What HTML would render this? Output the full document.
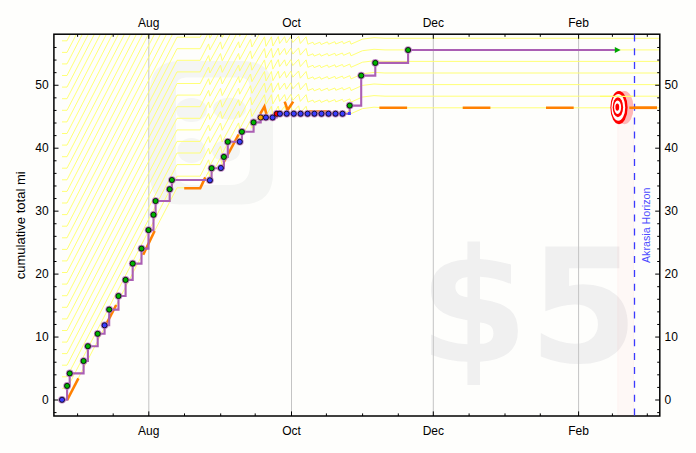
<!DOCTYPE html>
<html><head><meta charset="utf-8"><style>
html,body{margin:0;padding:0;background:#fefefc;width:696px;height:453px;overflow:hidden}
svg{display:block}
.t{font-family:"Liberation Sans",sans-serif;font-size:12px;fill:#000}
</style></head><body>
<svg width="696" height="453" viewBox="0 0 696 453">
<rect width="696" height="453" fill="#fefefc"/>
<g fill="#f0f0f0"><path transform="translate(418.5,361.8) scale(0.0773,-0.0773)" d="M795 -301H633L632 0Q507 5 390.0 28.0Q273 51 162 92V354Q277 295 394.5 263.5Q512 232 633 228V539L600 545Q361 587 260.5 677.0Q160 767 160 936Q160 1115 282.5 1215.5Q405 1316 632 1325L633 1556H795V1329Q895 1321 995.0 1304.0Q1095 1287 1196 1260V1006Q1096 1048 996.0 1071.5Q896 1095 795 1100V813L827 807Q1081 767 1183.5 673.5Q1286 580 1286 397Q1286 213 1164.0 114.5Q1042 16 795 2ZM633 836V1097Q562 1093 519.5 1058.5Q477 1024 477 971Q477 912 516.0 878.5Q555 845 633 836ZM795 510V232Q882 233 925.5 266.0Q969 299 969 365Q969 433 929.0 466.5Q889 500 795 510Z"/><path transform="translate(528.6,361.8) scale(0.0773,-0.0773)" d="M217 1493H1174V1210H524V979Q568 991 612.5 997.5Q657 1004 705 1004Q978 1004 1130.0 867.5Q1282 731 1282 487Q1282 245 1116.5 108.0Q951 -29 657 -29Q530 -29 405.5 -4.5Q281 20 158 70V373Q280 303 389.5 268.0Q499 233 596 233Q736 233 816.5 301.5Q897 370 897 487Q897 605 816.5 673.0Q736 741 596 741Q513 741 419.0 719.5Q325 698 217 653Z"/></g>
<g fill="#f4f5f3"><path fill-rule="evenodd" d="M180,61 H243 Q273,61 273,91 V173 Q273,204.5 241,204.5 H180 Q150,204.5 150,175 V91 Q150,61 180,61 Z M186,77.5 H240 Q250,77.5 250,88 V165 Q250,185 230,185 H192 Q176,185 176,169 V87.5 Q176,77.5 186,77.5 Z"/><ellipse cx="191.5" cy="110" rx="15.5" ry="12"/><ellipse cx="229.5" cy="108.8" rx="16.5" ry="11"/><ellipse cx="191.5" cy="150.5" rx="14" ry="12.5"/><ellipse cx="226" cy="151" rx="14" ry="10.5"/></g>
<rect x="617.8" y="118" width="15.8" height="298" fill="rgba(255,0,0,0.025)" stroke="rgba(255,0,0,0.045)" stroke-width="0.8"/>
<line x1="148.8" y1="34.2" x2="148.8" y2="416.0" stroke="#c4c4c4" stroke-width="1"/>
<line x1="291.5" y1="34.2" x2="291.5" y2="416.0" stroke="#c4c4c4" stroke-width="1"/>
<line x1="433.3" y1="34.2" x2="433.3" y2="416.0" stroke="#c4c4c4" stroke-width="1"/>
<line x1="578.6" y1="34.2" x2="578.6" y2="416.0" stroke="#c4c4c4" stroke-width="1"/>
<defs><clipPath id="pc"><rect x="54.6" y="35" width="604.5" height="380.3"/></clipPath></defs>
<g clip-path="url(#pc)" fill="none" stroke="#ffff70" stroke-width="0.95" stroke-linejoin="miter">
<path d="M62.0,400.0 L67.0,400.0 L177.0,187.8 L200.2,187.8 L208.6,171.4 L209.9,177.3 L220.5,157.8 L222.2,165.1 L238.6,134.5 L239.7,140.6 L250.5,120.4 L251.9,128.1 L264.5,106.3 L266.0,115.8 L271.4,106.3 L272.9,115.5 L278.3,106.0 L279.6,113.0 L284.6,106.2 L286.4,112.5 L290.8,106.0 L292.8,112.0 L298.6,105.8 L300.3,113.0 L306.1,106.3 L307.9,113.7 L313.0,111.7 L314.2,114.0 L319.9,111.7 L321.1,114.0 L327.4,111.4 L328.6,113.7 L334.9,111.2 L335.8,113.5 L342.4,110.9 L343.5,113.2 L349.8,110.5 L351.0,113.7 L362.5,108.6 L374.0,107.2 L385.0,107.8 L660.0,107.8"/>
<path d="M62.0,388.4 L67.0,388.4 L177.0,176.2 L200.2,176.2 L208.6,159.8 L209.9,165.7 L220.5,146.2 L222.2,153.5 L238.6,122.9 L239.7,129.0 L250.5,108.8 L251.9,116.5 L264.5,94.7 L266.0,104.2 L271.4,94.7 L272.9,103.9 L278.3,94.4 L279.6,101.4 L284.6,94.6 L286.4,100.9 L290.8,94.4 L292.8,100.4 L298.6,94.2 L300.3,101.4 L306.1,94.7 L307.9,102.1 L313.0,100.1 L314.2,102.4 L319.9,100.1 L321.1,102.4 L327.4,99.8 L328.6,102.1 L334.9,99.6 L335.8,101.9 L342.4,99.3 L343.5,101.6 L349.8,98.9 L351.0,102.1 L362.5,97.0 L374.0,95.6 L385.0,96.2 L660.0,96.2"/>
<path d="M62.0,376.8 L67.0,376.8 L177.0,164.6 L200.2,164.6 L208.6,148.2 L209.9,154.1 L220.5,134.6 L222.2,141.9 L238.6,111.3 L239.7,117.4 L250.5,97.2 L251.9,104.9 L264.5,83.1 L266.0,92.6 L271.4,83.1 L272.9,92.3 L278.3,82.8 L279.6,89.8 L284.6,83.0 L286.4,89.3 L290.8,82.8 L292.8,88.8 L298.6,82.6 L300.3,89.8 L306.1,83.1 L307.9,90.5 L313.0,88.5 L314.2,90.8 L319.9,88.5 L321.1,90.8 L327.4,88.2 L328.6,90.5 L334.9,88.0 L335.8,90.3 L342.4,87.7 L343.5,90.0 L349.8,87.3 L351.0,90.5 L362.5,85.4 L374.0,84.0 L385.0,84.6 L660.0,84.6"/>
<path d="M62.0,365.2 L67.0,365.2 L177.0,153.0 L200.2,153.0 L208.6,136.6 L209.9,142.5 L220.5,123.0 L222.2,130.3 L238.6,99.7 L239.7,105.8 L250.5,85.6 L251.9,93.3 L264.5,71.5 L266.0,81.0 L271.4,71.5 L272.9,80.7 L278.3,71.2 L279.6,78.2 L284.6,71.4 L286.4,77.7 L290.8,71.2 L292.8,77.2 L298.6,71.0 L300.3,78.2 L306.1,71.5 L307.9,78.9 L313.0,76.9 L314.2,79.2 L319.9,76.9 L321.1,79.2 L327.4,76.6 L328.6,78.9 L334.9,76.4 L335.8,78.7 L342.4,76.1 L343.5,78.4 L349.8,75.7 L351.0,78.9 L362.5,73.8 L374.0,72.4 L385.0,73.0 L660.0,73.0"/>
<path d="M62.0,353.6 L67.0,353.6 L177.0,141.4 L200.2,141.4 L208.6,125.0 L209.9,130.9 L220.5,111.4 L222.2,118.7 L238.6,88.1 L239.7,94.2 L250.5,74.0 L251.9,81.7 L264.5,59.9 L266.0,69.4 L271.4,59.9 L272.9,69.1 L278.3,59.6 L279.6,66.6 L284.6,59.8 L286.4,66.1 L290.8,59.6 L292.8,65.6 L298.6,59.4 L300.3,66.6 L306.1,59.9 L307.9,67.3 L313.0,65.3 L314.2,67.6 L319.9,65.3 L321.1,67.6 L327.4,65.0 L328.6,67.3 L334.9,64.8 L335.8,67.1 L342.4,64.5 L343.5,66.8 L349.8,64.1 L351.0,67.3 L362.5,62.2 L374.0,60.8 L385.0,61.4 L660.0,61.4"/>
<path d="M62.0,342.1 L67.0,342.1 L177.0,129.9 L200.2,129.9 L208.6,113.5 L209.9,119.4 L220.5,99.9 L222.2,107.2 L238.6,76.6 L239.7,82.7 L250.5,62.5 L251.9,70.2 L264.5,48.4 L266.0,57.9 L271.4,48.4 L272.9,57.6 L278.3,48.1 L279.6,55.1 L284.6,48.3 L286.4,54.6 L290.8,48.1 L292.8,54.1 L298.6,47.9 L300.3,55.1 L306.1,48.4 L307.9,55.8 L313.0,53.8 L314.2,56.1 L319.9,53.8 L321.1,56.1 L327.4,53.5 L328.6,55.8 L334.9,53.3 L335.8,55.6 L342.4,53.0 L343.5,55.3 L349.8,52.6 L351.0,55.8 L362.5,50.7 L374.0,49.3 L385.0,49.9 L660.0,49.9"/>
<path d="M62.0,330.5 L67.0,330.5 L177.0,118.3 L200.2,118.3 L208.6,101.9 L209.9,107.8 L220.5,88.3 L222.2,95.6 L238.6,65.0 L239.7,71.1 L250.5,50.9 L251.9,58.6 L264.5,36.8 L266.0,46.3 L271.4,36.8 L272.9,46.0 L278.3,36.5 L279.6,43.5 L284.6,36.7 L286.4,43.0 L290.8,36.5 L292.8,42.5 L298.6,36.3 L300.3,43.5 L306.1,36.8 L307.9,44.2 L313.0,42.2 L314.2,44.5 L319.9,42.2 L321.1,44.5 L327.4,41.9 L328.6,44.2 L334.9,41.7 L335.8,44.0 L342.4,41.4 L343.5,43.7 L349.8,41.0 L351.0,44.2 L362.5,39.1 L374.0,37.7 L385.0,38.3 L660.0,38.3"/>
<path d="M62.0,318.9 L67.0,318.9 L177.0,106.7 L200.2,106.7 L208.6,90.3 L209.9,96.2 L220.5,76.7 L222.2,84.0 L238.6,53.4 L239.7,59.5 L250.5,39.3 L251.9,47.0 L264.5,25.2 L266.0,34.7 L271.4,25.2 L272.9,34.4 L278.3,24.9 L279.6,31.9 L284.6,25.1 L286.4,31.4 L290.8,24.9 L292.8,30.9 L298.6,24.7 L300.3,31.9 L306.1,25.2 L307.9,32.6 L313.0,30.6 L314.2,32.9 L319.9,30.6 L321.1,32.9 L327.4,30.3 L328.6,32.6 L334.9,30.1 L335.8,32.4 L342.4,29.8 L343.5,32.1 L349.8,29.4 L351.0,32.6 L362.5,27.5 L374.0,26.1 L385.0,26.7 L660.0,26.7"/>
<path d="M62.0,307.3 L67.0,307.3 L177.0,95.1 L200.2,95.1 L208.6,78.7 L209.9,84.6 L220.5,65.1 L222.2,72.4 L238.6,41.8 L239.7,47.9 L250.5,27.7 L251.9,35.4 L264.5,13.6 L266.0,23.1 L271.4,13.6 L272.9,22.8 L278.3,13.3 L279.6,20.3 L284.6,13.5 L286.4,19.8 L290.8,13.3 L292.8,19.3 L298.6,13.1 L300.3,20.3 L306.1,13.6 L307.9,21.0 L313.0,19.0 L314.2,21.3 L319.9,19.0 L321.1,21.3 L327.4,18.7 L328.6,21.0 L334.9,18.5 L335.8,20.8 L342.4,18.2 L343.5,20.5 L349.8,17.8 L351.0,21.0 L362.5,15.9 L374.0,14.5 L385.0,15.1 L660.0,15.1"/>
<path d="M62.0,295.7 L67.0,295.7 L177.0,83.5 L200.2,83.5 L208.6,67.1 L209.9,73.0 L220.5,53.5 L222.2,60.8 L238.6,30.2 L239.7,36.3 L250.5,16.1 L251.9,23.8 L264.5,2.0 L266.0,11.5 L271.4,2.0 L272.9,11.2 L278.3,1.7 L279.6,8.7 L284.6,1.9 L286.4,8.2 L290.8,1.7 L292.8,7.7 L298.6,1.5 L300.3,8.7 L306.1,2.0 L307.9,9.4 L313.0,7.4 L314.2,9.7 L319.9,7.4 L321.1,9.7 L327.4,7.1 L328.6,9.4 L334.9,6.9 L335.8,9.2 L342.4,6.6 L343.5,8.9 L349.8,6.2 L351.0,9.4 L362.5,4.3 L374.0,2.9 L385.0,3.5 L660.0,3.5"/>
<path d="M62.0,284.1 L67.0,284.1 L177.0,71.9 L200.2,71.9 L208.6,55.5 L209.9,61.4 L220.5,41.9 L222.2,49.2 L238.6,18.6 L239.7,24.7 L250.5,4.5 L251.9,12.2 L264.5,-9.6 L266.0,-0.1 L271.4,-9.6 L272.9,-0.4 L278.3,-9.9 L279.6,-2.9 L284.6,-9.7 L286.4,-3.4 L290.8,-9.9 L292.8,-3.9 L298.6,-10.1 L300.3,-2.9 L306.1,-9.6 L307.9,-2.2 L313.0,-4.2 L314.2,-1.9 L319.9,-4.2 L321.1,-1.9 L327.4,-4.5 L328.6,-2.2 L334.9,-4.7 L335.8,-2.4 L342.4,-5.0 L343.5,-2.7 L349.8,-5.4 L351.0,-2.2 L362.5,-7.3 L374.0,-8.7 L385.0,-8.1 L660.0,-8.1"/>
<path d="M62.0,272.5 L67.0,272.5 L177.0,60.3 L200.2,60.3 L208.6,43.9 L209.9,49.8 L220.5,30.3 L222.2,37.6 L238.6,7.0 L239.7,13.1 L250.5,-7.1 L251.9,0.6 L264.5,-21.2 L266.0,-11.7 L271.4,-21.2 L272.9,-12.0 L278.3,-21.5 L279.6,-14.5 L284.6,-21.3 L286.4,-15.0 L290.8,-21.5 L292.8,-15.5 L298.6,-21.7 L300.3,-14.5 L306.1,-21.2 L307.9,-13.8 L313.0,-15.8 L314.2,-13.5 L319.9,-15.8 L321.1,-13.5 L327.4,-16.1 L328.6,-13.8 L334.9,-16.3 L335.8,-14.0 L342.4,-16.6 L343.5,-14.3 L349.8,-17.0 L351.0,-13.8 L362.5,-18.9 L374.0,-20.3 L385.0,-19.7 L660.0,-19.7"/>
<path d="M62.0,260.9 L67.0,260.9 L177.0,48.7 L200.2,48.7 L208.6,32.3 L209.9,38.2 L220.5,18.7 L222.2,26.0 L238.6,-4.6 L239.7,1.5 L250.5,-18.7 L251.9,-11.0 L264.5,-32.8 L266.0,-23.3 L271.4,-32.8 L272.9,-23.6 L278.3,-33.1 L279.6,-26.1 L284.6,-32.9 L286.4,-26.6 L290.8,-33.1 L292.8,-27.1 L298.6,-33.3 L300.3,-26.1 L306.1,-32.8 L307.9,-25.4 L313.0,-27.4 L314.2,-25.1 L319.9,-27.4 L321.1,-25.1 L327.4,-27.7 L328.6,-25.4 L334.9,-27.9 L335.8,-25.6 L342.4,-28.2 L343.5,-25.9 L349.8,-28.6 L351.0,-25.4 L362.5,-30.5 L374.0,-31.9 L385.0,-31.3 L660.0,-31.3"/>
<path d="M62.0,249.4 L67.0,249.4 L177.0,37.2 L200.2,37.2 L208.6,20.8 L209.9,26.7 L220.5,7.2 L222.2,14.5 L238.6,-16.1 L239.7,-10.0 L250.5,-30.2 L251.9,-22.5 L264.5,-44.3 L266.0,-34.8 L271.4,-44.3 L272.9,-35.1 L278.3,-44.6 L279.6,-37.6 L284.6,-44.4 L286.4,-38.1 L290.8,-44.6 L292.8,-38.6 L298.6,-44.8 L300.3,-37.6 L306.1,-44.3 L307.9,-36.9 L313.0,-38.9 L314.2,-36.6 L319.9,-38.9 L321.1,-36.6 L327.4,-39.2 L328.6,-36.9 L334.9,-39.4 L335.8,-37.1 L342.4,-39.7 L343.5,-37.4 L349.8,-40.1 L351.0,-36.9 L362.5,-42.0 L374.0,-43.4 L385.0,-42.8 L660.0,-42.8"/>
<path d="M62.0,237.8 L67.0,237.8 L177.0,25.6 L200.2,25.6 L208.6,9.2 L209.9,15.1 L220.5,-4.4 L222.2,2.9 L238.6,-27.7 L239.7,-21.6 L250.5,-41.8 L251.9,-34.1 L264.5,-55.9 L266.0,-46.4 L271.4,-55.9 L272.9,-46.7 L278.3,-56.2 L279.6,-49.2 L284.6,-56.0 L286.4,-49.7 L290.8,-56.2 L292.8,-50.2 L298.6,-56.4 L300.3,-49.2 L306.1,-55.9 L307.9,-48.5 L313.0,-50.5 L314.2,-48.2 L319.9,-50.5 L321.1,-48.2 L327.4,-50.8 L328.6,-48.5 L334.9,-51.0 L335.8,-48.7 L342.4,-51.3 L343.5,-49.0 L349.8,-51.7 L351.0,-48.5 L362.5,-53.6 L374.0,-55.0 L385.0,-54.4 L660.0,-54.4"/>
<path d="M62.0,226.2 L67.0,226.2 L177.0,14.0 L200.2,14.0 L208.6,-2.4 L209.9,3.5 L220.5,-16.0 L222.2,-8.7 L238.6,-39.3 L239.7,-33.2 L250.5,-53.4 L251.9,-45.7 L264.5,-67.5 L266.0,-58.0 L271.4,-67.5 L272.9,-58.3 L278.3,-67.8 L279.6,-60.8 L284.6,-67.6 L286.4,-61.3 L290.8,-67.8 L292.8,-61.8 L298.6,-68.0 L300.3,-60.8 L306.1,-67.5 L307.9,-60.1 L313.0,-62.1 L314.2,-59.8 L319.9,-62.1 L321.1,-59.8 L327.4,-62.4 L328.6,-60.1 L334.9,-62.6 L335.8,-60.3 L342.4,-62.9 L343.5,-60.6 L349.8,-63.3 L351.0,-60.1 L362.5,-65.2 L374.0,-66.6 L385.0,-66.0 L660.0,-66.0"/>
<path d="M62.0,214.6 L67.0,214.6 L177.0,2.4 L200.2,2.4 L208.6,-14.0 L209.9,-8.1 L220.5,-27.6 L222.2,-20.3 L238.6,-50.9 L239.7,-44.8 L250.5,-65.0 L251.9,-57.3 L264.5,-79.1 L266.0,-69.6 L271.4,-79.1 L272.9,-69.9 L278.3,-79.4 L279.6,-72.4 L284.6,-79.2 L286.4,-72.9 L290.8,-79.4 L292.8,-73.4 L298.6,-79.6 L300.3,-72.4 L306.1,-79.1 L307.9,-71.7 L313.0,-73.7 L314.2,-71.4 L319.9,-73.7 L321.1,-71.4 L327.4,-74.0 L328.6,-71.7 L334.9,-74.2 L335.8,-71.9 L342.4,-74.5 L343.5,-72.2 L349.8,-74.9 L351.0,-71.7 L362.5,-76.8 L374.0,-78.2 L385.0,-77.6 L660.0,-77.6"/>
<path d="M62.0,203.0 L67.0,203.0 L177.0,-9.2 L200.2,-9.2 L208.6,-25.6 L209.9,-19.7 L220.5,-39.2 L222.2,-31.9 L238.6,-62.5 L239.7,-56.4 L250.5,-76.6 L251.9,-68.9 L264.5,-90.7 L266.0,-81.2 L271.4,-90.7 L272.9,-81.5 L278.3,-91.0 L279.6,-84.0 L284.6,-90.8 L286.4,-84.5 L290.8,-91.0 L292.8,-85.0 L298.6,-91.2 L300.3,-84.0 L306.1,-90.7 L307.9,-83.3 L313.0,-85.3 L314.2,-83.0 L319.9,-85.3 L321.1,-83.0 L327.4,-85.6 L328.6,-83.3 L334.9,-85.8 L335.8,-83.5 L342.4,-86.1 L343.5,-83.8 L349.8,-86.5 L351.0,-83.3 L362.5,-88.4 L374.0,-89.8 L385.0,-89.2 L660.0,-89.2"/>
<path d="M62.0,191.4 L67.0,191.4 L177.0,-20.8 L200.2,-20.8 L208.6,-37.2 L209.9,-31.3 L220.5,-50.8 L222.2,-43.5 L238.6,-74.1 L239.7,-68.0 L250.5,-88.2 L251.9,-80.5 L264.5,-102.3 L266.0,-92.8 L271.4,-102.3 L272.9,-93.1 L278.3,-102.6 L279.6,-95.6 L284.6,-102.4 L286.4,-96.1 L290.8,-102.6 L292.8,-96.6 L298.6,-102.8 L300.3,-95.6 L306.1,-102.3 L307.9,-94.9 L313.0,-96.9 L314.2,-94.6 L319.9,-96.9 L321.1,-94.6 L327.4,-97.2 L328.6,-94.9 L334.9,-97.4 L335.8,-95.1 L342.4,-97.7 L343.5,-95.4 L349.8,-98.1 L351.0,-94.9 L362.5,-100.0 L374.0,-101.4 L385.0,-100.8 L660.0,-100.8"/>
<path d="M62.0,179.8 L67.0,179.8 L177.0,-32.4 L200.2,-32.4 L208.6,-48.8 L209.9,-42.9 L220.5,-62.4 L222.2,-55.1 L238.6,-85.7 L239.7,-79.6 L250.5,-99.8 L251.9,-92.1 L264.5,-113.9 L266.0,-104.4 L271.4,-113.9 L272.9,-104.7 L278.3,-114.2 L279.6,-107.2 L284.6,-114.0 L286.4,-107.7 L290.8,-114.2 L292.8,-108.2 L298.6,-114.4 L300.3,-107.2 L306.1,-113.9 L307.9,-106.5 L313.0,-108.5 L314.2,-106.2 L319.9,-108.5 L321.1,-106.2 L327.4,-108.8 L328.6,-106.5 L334.9,-109.0 L335.8,-106.7 L342.4,-109.3 L343.5,-107.0 L349.8,-109.7 L351.0,-106.5 L362.5,-111.6 L374.0,-113.0 L385.0,-112.4 L660.0,-112.4"/>
<path d="M62.0,168.2 L67.0,168.2 L177.0,-44.0 L200.2,-44.0 L208.6,-60.4 L209.9,-54.5 L220.5,-74.0 L222.2,-66.7 L238.6,-97.3 L239.7,-91.2 L250.5,-111.4 L251.9,-103.7 L264.5,-125.5 L266.0,-116.0 L271.4,-125.5 L272.9,-116.3 L278.3,-125.8 L279.6,-118.8 L284.6,-125.6 L286.4,-119.3 L290.8,-125.8 L292.8,-119.8 L298.6,-126.0 L300.3,-118.8 L306.1,-125.5 L307.9,-118.1 L313.0,-120.1 L314.2,-117.8 L319.9,-120.1 L321.1,-117.8 L327.4,-120.4 L328.6,-118.1 L334.9,-120.6 L335.8,-118.3 L342.4,-120.9 L343.5,-118.6 L349.8,-121.3 L351.0,-118.1 L362.5,-123.2 L374.0,-124.6 L385.0,-124.0 L660.0,-124.0"/>
<path d="M62.0,156.7 L67.0,156.7 L177.0,-55.5 L200.2,-55.5 L208.6,-71.9 L209.9,-66.0 L220.5,-85.5 L222.2,-78.2 L238.6,-108.8 L239.7,-102.7 L250.5,-122.9 L251.9,-115.2 L264.5,-137.0 L266.0,-127.5 L271.4,-137.0 L272.9,-127.8 L278.3,-137.3 L279.6,-130.3 L284.6,-137.1 L286.4,-130.8 L290.8,-137.3 L292.8,-131.3 L298.6,-137.5 L300.3,-130.3 L306.1,-137.0 L307.9,-129.6 L313.0,-131.6 L314.2,-129.3 L319.9,-131.6 L321.1,-129.3 L327.4,-131.9 L328.6,-129.6 L334.9,-132.1 L335.8,-129.8 L342.4,-132.4 L343.5,-130.1 L349.8,-132.8 L351.0,-129.6 L362.5,-134.7 L374.0,-136.1 L385.0,-135.5 L660.0,-135.5"/>
<path d="M62.0,145.1 L67.0,145.1 L177.0,-67.1 L200.2,-67.1 L208.6,-83.5 L209.9,-77.6 L220.5,-97.1 L222.2,-89.8 L238.6,-120.4 L239.7,-114.3 L250.5,-134.5 L251.9,-126.8 L264.5,-148.6 L266.0,-139.1 L271.4,-148.6 L272.9,-139.4 L278.3,-148.9 L279.6,-141.9 L284.6,-148.7 L286.4,-142.4 L290.8,-148.9 L292.8,-142.9 L298.6,-149.1 L300.3,-141.9 L306.1,-148.6 L307.9,-141.2 L313.0,-143.2 L314.2,-140.9 L319.9,-143.2 L321.1,-140.9 L327.4,-143.5 L328.6,-141.2 L334.9,-143.7 L335.8,-141.4 L342.4,-144.0 L343.5,-141.7 L349.8,-144.4 L351.0,-141.2 L362.5,-146.3 L374.0,-147.7 L385.0,-147.1 L660.0,-147.1"/>
<path d="M62.0,133.5 L67.0,133.5 L177.0,-78.7 L200.2,-78.7 L208.6,-95.1 L209.9,-89.2 L220.5,-108.7 L222.2,-101.4 L238.6,-132.0 L239.7,-125.9 L250.5,-146.1 L251.9,-138.4 L264.5,-160.2 L266.0,-150.7 L271.4,-160.2 L272.9,-151.0 L278.3,-160.5 L279.6,-153.5 L284.6,-160.3 L286.4,-154.0 L290.8,-160.5 L292.8,-154.5 L298.6,-160.7 L300.3,-153.5 L306.1,-160.2 L307.9,-152.8 L313.0,-154.8 L314.2,-152.5 L319.9,-154.8 L321.1,-152.5 L327.4,-155.1 L328.6,-152.8 L334.9,-155.3 L335.8,-153.0 L342.4,-155.6 L343.5,-153.3 L349.8,-156.0 L351.0,-152.8 L362.5,-157.9 L374.0,-159.3 L385.0,-158.7 L660.0,-158.7"/>
<path d="M62.0,121.9 L67.0,121.9 L177.0,-90.3 L200.2,-90.3 L208.6,-106.7 L209.9,-100.8 L220.5,-120.3 L222.2,-113.0 L238.6,-143.6 L239.7,-137.5 L250.5,-157.7 L251.9,-150.0 L264.5,-171.8 L266.0,-162.3 L271.4,-171.8 L272.9,-162.6 L278.3,-172.1 L279.6,-165.1 L284.6,-171.9 L286.4,-165.6 L290.8,-172.1 L292.8,-166.1 L298.6,-172.3 L300.3,-165.1 L306.1,-171.8 L307.9,-164.4 L313.0,-166.4 L314.2,-164.1 L319.9,-166.4 L321.1,-164.1 L327.4,-166.7 L328.6,-164.4 L334.9,-166.9 L335.8,-164.6 L342.4,-167.2 L343.5,-164.9 L349.8,-167.6 L351.0,-164.4 L362.5,-169.5 L374.0,-170.9 L385.0,-170.3 L660.0,-170.3"/>
<path d="M62.0,110.3 L67.0,110.3 L177.0,-101.9 L200.2,-101.9 L208.6,-118.3 L209.9,-112.4 L220.5,-131.9 L222.2,-124.6 L238.6,-155.2 L239.7,-149.1 L250.5,-169.3 L251.9,-161.6 L264.5,-183.4 L266.0,-173.9 L271.4,-183.4 L272.9,-174.2 L278.3,-183.7 L279.6,-176.7 L284.6,-183.5 L286.4,-177.2 L290.8,-183.7 L292.8,-177.7 L298.6,-183.9 L300.3,-176.7 L306.1,-183.4 L307.9,-176.0 L313.0,-178.0 L314.2,-175.7 L319.9,-178.0 L321.1,-175.7 L327.4,-178.3 L328.6,-176.0 L334.9,-178.5 L335.8,-176.2 L342.4,-178.8 L343.5,-176.5 L349.8,-179.2 L351.0,-176.0 L362.5,-181.1 L374.0,-182.5 L385.0,-181.9 L660.0,-181.9"/>
<path d="M62.0,98.7 L67.0,98.7 L177.0,-113.5 L200.2,-113.5 L208.6,-129.9 L209.9,-124.0 L220.5,-143.5 L222.2,-136.2 L238.6,-166.8 L239.7,-160.7 L250.5,-180.9 L251.9,-173.2 L264.5,-195.0 L266.0,-185.5 L271.4,-195.0 L272.9,-185.8 L278.3,-195.3 L279.6,-188.3 L284.6,-195.1 L286.4,-188.8 L290.8,-195.3 L292.8,-189.3 L298.6,-195.5 L300.3,-188.3 L306.1,-195.0 L307.9,-187.6 L313.0,-189.6 L314.2,-187.3 L319.9,-189.6 L321.1,-187.3 L327.4,-189.9 L328.6,-187.6 L334.9,-190.1 L335.8,-187.8 L342.4,-190.4 L343.5,-188.1 L349.8,-190.8 L351.0,-187.6 L362.5,-192.7 L374.0,-194.1 L385.0,-193.5 L660.0,-193.5"/>
<path d="M62.0,87.1 L67.0,87.1 L177.0,-125.1 L200.2,-125.1 L208.6,-141.5 L209.9,-135.6 L220.5,-155.1 L222.2,-147.8 L238.6,-178.4 L239.7,-172.3 L250.5,-192.5 L251.9,-184.8 L264.5,-206.6 L266.0,-197.1 L271.4,-206.6 L272.9,-197.4 L278.3,-206.9 L279.6,-199.9 L284.6,-206.7 L286.4,-200.4 L290.8,-206.9 L292.8,-200.9 L298.6,-207.1 L300.3,-199.9 L306.1,-206.6 L307.9,-199.2 L313.0,-201.2 L314.2,-198.9 L319.9,-201.2 L321.1,-198.9 L327.4,-201.5 L328.6,-199.2 L334.9,-201.7 L335.8,-199.4 L342.4,-202.0 L343.5,-199.7 L349.8,-202.4 L351.0,-199.2 L362.5,-204.3 L374.0,-205.7 L385.0,-205.1 L660.0,-205.1"/>
<path d="M62.0,75.5 L67.0,75.5 L177.0,-136.7 L200.2,-136.7 L208.6,-153.1 L209.9,-147.2 L220.5,-166.7 L222.2,-159.4 L238.6,-190.0 L239.7,-183.9 L250.5,-204.1 L251.9,-196.4 L264.5,-218.2 L266.0,-208.7 L271.4,-218.2 L272.9,-209.0 L278.3,-218.5 L279.6,-211.5 L284.6,-218.3 L286.4,-212.0 L290.8,-218.5 L292.8,-212.5 L298.6,-218.7 L300.3,-211.5 L306.1,-218.2 L307.9,-210.8 L313.0,-212.8 L314.2,-210.5 L319.9,-212.8 L321.1,-210.5 L327.4,-213.1 L328.6,-210.8 L334.9,-213.3 L335.8,-211.0 L342.4,-213.6 L343.5,-211.3 L349.8,-214.0 L351.0,-210.8 L362.5,-215.9 L374.0,-217.3 L385.0,-216.7 L660.0,-216.7"/>
<path d="M62.0,63.9 L67.0,63.9 L177.0,-148.3 L200.2,-148.3 L208.6,-164.7 L209.9,-158.8 L220.5,-178.3 L222.2,-171.0 L238.6,-201.6 L239.7,-195.5 L250.5,-215.7 L251.9,-208.0 L264.5,-229.8 L266.0,-220.3 L271.4,-229.8 L272.9,-220.6 L278.3,-230.1 L279.6,-223.1 L284.6,-229.9 L286.4,-223.6 L290.8,-230.1 L292.8,-224.1 L298.6,-230.3 L300.3,-223.1 L306.1,-229.8 L307.9,-222.4 L313.0,-224.4 L314.2,-222.1 L319.9,-224.4 L321.1,-222.1 L327.4,-224.7 L328.6,-222.4 L334.9,-224.9 L335.8,-222.6 L342.4,-225.2 L343.5,-222.9 L349.8,-225.6 L351.0,-222.4 L362.5,-227.5 L374.0,-228.9 L385.0,-228.3 L660.0,-228.3"/>
<path d="M62.0,52.4 L67.0,52.4 L177.0,-159.8 L200.2,-159.8 L208.6,-176.2 L209.9,-170.3 L220.5,-189.8 L222.2,-182.5 L238.6,-213.1 L239.7,-207.0 L250.5,-227.2 L251.9,-219.5 L264.5,-241.3 L266.0,-231.8 L271.4,-241.3 L272.9,-232.1 L278.3,-241.6 L279.6,-234.6 L284.6,-241.4 L286.4,-235.1 L290.8,-241.6 L292.8,-235.6 L298.6,-241.8 L300.3,-234.6 L306.1,-241.3 L307.9,-233.9 L313.0,-235.9 L314.2,-233.6 L319.9,-235.9 L321.1,-233.6 L327.4,-236.2 L328.6,-233.9 L334.9,-236.4 L335.8,-234.1 L342.4,-236.7 L343.5,-234.4 L349.8,-237.1 L351.0,-233.9 L362.5,-239.0 L374.0,-240.4 L385.0,-239.8 L660.0,-239.8"/>
<path d="M62.0,40.8 L67.0,40.8 L177.0,-171.4 L200.2,-171.4 L208.6,-187.8 L209.9,-181.9 L220.5,-201.4 L222.2,-194.1 L238.6,-224.7 L239.7,-218.6 L250.5,-238.8 L251.9,-231.1 L264.5,-252.9 L266.0,-243.4 L271.4,-252.9 L272.9,-243.7 L278.3,-253.2 L279.6,-246.2 L284.6,-253.0 L286.4,-246.7 L290.8,-253.2 L292.8,-247.2 L298.6,-253.4 L300.3,-246.2 L306.1,-252.9 L307.9,-245.5 L313.0,-247.5 L314.2,-245.2 L319.9,-247.5 L321.1,-245.2 L327.4,-247.8 L328.6,-245.5 L334.9,-248.0 L335.8,-245.7 L342.4,-248.3 L343.5,-246.0 L349.8,-248.7 L351.0,-245.5 L362.5,-250.6 L374.0,-252.0 L385.0,-251.4 L660.0,-251.4"/>
<path d="M62.0,29.2 L67.0,29.2 L177.0,-183.0 L200.2,-183.0 L208.6,-199.4 L209.9,-193.5 L220.5,-213.0 L222.2,-205.7 L238.6,-236.3 L239.7,-230.2 L250.5,-250.4 L251.9,-242.7 L264.5,-264.5 L266.0,-255.0 L271.4,-264.5 L272.9,-255.3 L278.3,-264.8 L279.6,-257.8 L284.6,-264.6 L286.4,-258.3 L290.8,-264.8 L292.8,-258.8 L298.6,-265.0 L300.3,-257.8 L306.1,-264.5 L307.9,-257.1 L313.0,-259.1 L314.2,-256.8 L319.9,-259.1 L321.1,-256.8 L327.4,-259.4 L328.6,-257.1 L334.9,-259.6 L335.8,-257.3 L342.4,-259.9 L343.5,-257.6 L349.8,-260.3 L351.0,-257.1 L362.5,-262.2 L374.0,-263.6 L385.0,-263.0 L660.0,-263.0"/>
<path d="M62.0,17.6 L67.0,17.6 L177.0,-194.6 L200.2,-194.6 L208.6,-211.0 L209.9,-205.1 L220.5,-224.6 L222.2,-217.3 L238.6,-247.9 L239.7,-241.8 L250.5,-262.0 L251.9,-254.3 L264.5,-276.1 L266.0,-266.6 L271.4,-276.1 L272.9,-266.9 L278.3,-276.4 L279.6,-269.4 L284.6,-276.2 L286.4,-269.9 L290.8,-276.4 L292.8,-270.4 L298.6,-276.6 L300.3,-269.4 L306.1,-276.1 L307.9,-268.7 L313.0,-270.7 L314.2,-268.4 L319.9,-270.7 L321.1,-268.4 L327.4,-271.0 L328.6,-268.7 L334.9,-271.2 L335.8,-268.9 L342.4,-271.5 L343.5,-269.2 L349.8,-271.9 L351.0,-268.7 L362.5,-273.8 L374.0,-275.2 L385.0,-274.6 L660.0,-274.6"/>
</g>
<g fill="none" stroke="#ff8000" stroke-width="2.6" stroke-linecap="butt" stroke-linejoin="miter">
<path d="M67.2,400 L78.4,378.4"/>
<path d="M105.5,325.6 L116.2,305"/>
<path d="M143.2,254.8 L154.6,231"/>
<path d="M184.2,188.2 L200.2,188.2 L205.3,177.4"/>
<path d="M223.6,162.5 L238.6,134.5"/>
<path d="M260.2,113.8 L264.4,106.6 L266.4,113.8"/>
<path d="M284.7,101.6 L287.6,110 L293.2,101.6"/>
<path d="M309,111.5 L330,111.5"/>
<path d="M379.4,107.8 H660" stroke-dasharray="27.7 55.6"/>
</g>
<rect x="53.9" y="34.2" width="605.9" height="381.8" fill="none" stroke="#000" stroke-width="1.5"/>
<path d="M77.6,416.0 v-2.6 M77.6,34.2 v2.6 M113.2,416.0 v-2.6 M113.2,34.2 v2.6 M184.5,416.0 v-2.6 M184.5,34.2 v2.6 M220.7,416.0 v-2.6 M220.7,34.2 v2.6 M255.2,416.0 v-2.6 M255.2,34.2 v2.6 M326.4,416.0 v-2.6 M326.4,34.2 v2.6 M362.6,416.0 v-2.6 M362.6,34.2 v2.6 M398.3,416.0 v-2.6 M398.3,34.2 v2.6 M469.1,416.0 v-2.6 M469.1,34.2 v2.6 M505,416.0 v-2.6 M505,34.2 v2.6 M540.3,416.0 v-2.6 M540.3,34.2 v2.6 M612.4,416.0 v-2.6 M612.4,34.2 v2.6 M647.3,416.0 v-2.6 M647.3,34.2 v2.6 M148.8,416.0 v-4.6 M148.8,34.2 v4.6 M291.5,416.0 v-4.6 M291.5,34.2 v4.6 M433.3,416.0 v-4.6 M433.3,34.2 v4.6 M578.6,416.0 v-4.6 M578.6,34.2 v4.6 M53.9,412.59 h2.6 M659.8,412.59 h-2.6 M53.9,400.00 h4.6 M659.8,400.00 h-4.6 M53.9,387.41 h2.6 M659.8,387.41 h-2.6 M53.9,374.82 h2.6 M659.8,374.82 h-2.6 M53.9,362.23 h2.6 M659.8,362.23 h-2.6 M53.9,349.64 h2.6 M659.8,349.64 h-2.6 M53.9,337.05 h4.6 M659.8,337.05 h-4.6 M53.9,324.46 h2.6 M659.8,324.46 h-2.6 M53.9,311.87 h2.6 M659.8,311.87 h-2.6 M53.9,299.28 h2.6 M659.8,299.28 h-2.6 M53.9,286.69 h2.6 M659.8,286.69 h-2.6 M53.9,274.10 h4.6 M659.8,274.10 h-4.6 M53.9,261.51 h2.6 M659.8,261.51 h-2.6 M53.9,248.92 h2.6 M659.8,248.92 h-2.6 M53.9,236.33 h2.6 M659.8,236.33 h-2.6 M53.9,223.74 h2.6 M659.8,223.74 h-2.6 M53.9,211.15 h4.6 M659.8,211.15 h-4.6 M53.9,198.56 h2.6 M659.8,198.56 h-2.6 M53.9,185.97 h2.6 M659.8,185.97 h-2.6 M53.9,173.38 h2.6 M659.8,173.38 h-2.6 M53.9,160.79 h2.6 M659.8,160.79 h-2.6 M53.9,148.20 h4.6 M659.8,148.20 h-4.6 M53.9,135.61 h2.6 M659.8,135.61 h-2.6 M53.9,123.02 h2.6 M659.8,123.02 h-2.6 M53.9,110.43 h2.6 M659.8,110.43 h-2.6 M53.9,97.84 h2.6 M659.8,97.84 h-2.6 M53.9,85.25 h4.6 M659.8,85.25 h-4.6 M53.9,72.66 h2.6 M659.8,72.66 h-2.6 M53.9,60.07 h2.6 M659.8,60.07 h-2.6 M53.9,47.48 h2.6 M659.8,47.48 h-2.6" stroke="#000" stroke-width="1" fill="none"/>
<text x="48.6" y="403.9" text-anchor="end" class="t">0</text>
<text x="664.6" y="403.9" class="t">0</text>
<text x="48.6" y="340.9" text-anchor="end" class="t">10</text>
<text x="664.6" y="340.9" class="t">10</text>
<text x="48.6" y="278.0" text-anchor="end" class="t">20</text>
<text x="664.6" y="278.0" class="t">20</text>
<text x="48.6" y="215.1" text-anchor="end" class="t">30</text>
<text x="664.6" y="215.1" class="t">30</text>
<text x="48.6" y="152.1" text-anchor="end" class="t">40</text>
<text x="664.6" y="152.1" class="t">40</text>
<text x="48.6" y="89.2" text-anchor="end" class="t">50</text>
<text x="664.6" y="89.2" class="t">50</text>
<text x="148.8" y="27" text-anchor="middle" class="t">Aug</text>
<text x="148.8" y="434.8" text-anchor="middle" class="t">Aug</text>
<text x="291.5" y="27" text-anchor="middle" class="t">Oct</text>
<text x="291.5" y="434.8" text-anchor="middle" class="t">Oct</text>
<text x="433.3" y="27" text-anchor="middle" class="t">Dec</text>
<text x="433.3" y="434.8" text-anchor="middle" class="t">Dec</text>
<text x="578.6" y="27" text-anchor="middle" class="t">Feb</text>
<text x="578.6" y="434.8" text-anchor="middle" class="t">Feb</text>
<text transform="translate(24.8,225.3) rotate(-90)" text-anchor="middle" class="t" textLength="108" lengthAdjust="spacingAndGlyphs">cumulative total mi</text>
<text transform="translate(649.8,225.3) rotate(-90)" text-anchor="middle" class="t" style="font-size:10.5px;fill:#4c4cff" textLength="75.5" lengthAdjust="spacingAndGlyphs">Akrasia Horizon</text>
<line x1="634.5" y1="34.4" x2="634.5" y2="416" stroke="#3a3aff" stroke-width="1.3" stroke-dasharray="7 6.856"/>
<path d="M62,399.8 H67.1 V385.9 H69.7 V373.4 H83.6 V361 H87.9 V346.2 H97.7 V333.8 H104.6 V325.3 H109.2 V309.6 H118.5 V296 H125.6 V279.9 H132.7 V263.6 H141.5 V248.6 H148.5 V230.1 H153.5 V214.8 H155.6 V201.0 H169.7 V189.2 H171.9 V180.0 H209.9 V180.3 H211.6 V168.2 H220.9 V168.0 H223.9 V156.9 H227.8 V141.8 H239.8 V141.8 H241.9 V131.8 H253.6 V122.4 H260.7 V117.5 H265.9 V117.5 H272.6 V117.5 H276.8 V113.8 H279.9 V113.8 H286.7 V113.7 H293.8 V113.7 H300.6 V113.7 H307.6 V113.7 H314.4 V113.7 H321.5 V113.7 H328.5 V113.7 H335.5 V113.7 H342.5 V113.7 H349.7 V105.6 H361.2 V75.6 H375.3 V62.9 H408.1 V50.0 H615" fill="none" stroke="#ab5fb3" stroke-width="2.1"/>
<path d="M614.8,46.9 L620.6,49.9 L614.8,52.9 Z" fill="#00a800"/>
<rect x="347.8" y="112" width="3" height="3" fill="#4040ff"/>
<circle cx="62" cy="399.8" r="3.8" fill="#b878c0" opacity="0.9"/>
<circle cx="67.1" cy="385.9" r="3.8" fill="#b878c0" opacity="0.9"/>
<circle cx="69.7" cy="373.4" r="3.8" fill="#b878c0" opacity="0.9"/>
<circle cx="83.6" cy="361" r="3.8" fill="#b878c0" opacity="0.9"/>
<circle cx="87.9" cy="346.2" r="3.8" fill="#b878c0" opacity="0.9"/>
<circle cx="97.7" cy="333.8" r="3.8" fill="#b878c0" opacity="0.9"/>
<circle cx="104.6" cy="325.3" r="3.8" fill="#b878c0" opacity="0.9"/>
<circle cx="109.2" cy="309.6" r="3.8" fill="#b878c0" opacity="0.9"/>
<circle cx="118.5" cy="296" r="3.8" fill="#b878c0" opacity="0.9"/>
<circle cx="125.6" cy="279.9" r="3.8" fill="#b878c0" opacity="0.9"/>
<circle cx="132.7" cy="263.6" r="3.8" fill="#b878c0" opacity="0.9"/>
<circle cx="141.5" cy="248.6" r="3.8" fill="#b878c0" opacity="0.9"/>
<circle cx="148.5" cy="230.1" r="3.8" fill="#b878c0" opacity="0.9"/>
<circle cx="153.5" cy="214.8" r="3.8" fill="#b878c0" opacity="0.9"/>
<circle cx="155.6" cy="201.0" r="3.8" fill="#b878c0" opacity="0.9"/>
<circle cx="169.7" cy="189.2" r="3.8" fill="#b878c0" opacity="0.9"/>
<circle cx="171.9" cy="180.0" r="3.8" fill="#b878c0" opacity="0.9"/>
<circle cx="209.9" cy="180.3" r="3.8" fill="#b878c0" opacity="0.9"/>
<circle cx="211.6" cy="168.2" r="3.8" fill="#b878c0" opacity="0.9"/>
<circle cx="220.9" cy="168.0" r="3.8" fill="#b878c0" opacity="0.9"/>
<circle cx="223.9" cy="156.9" r="3.8" fill="#b878c0" opacity="0.9"/>
<circle cx="227.8" cy="141.8" r="3.8" fill="#b878c0" opacity="0.9"/>
<circle cx="239.8" cy="141.8" r="3.8" fill="#b878c0" opacity="0.9"/>
<circle cx="241.9" cy="131.8" r="3.8" fill="#b878c0" opacity="0.9"/>
<circle cx="253.6" cy="122.4" r="3.8" fill="#b878c0" opacity="0.9"/>
<circle cx="260.7" cy="117.5" r="3.8" fill="#b878c0" opacity="0.9"/>
<circle cx="265.9" cy="117.5" r="3.8" fill="#b878c0" opacity="0.9"/>
<circle cx="272.6" cy="117.5" r="3.8" fill="#b878c0" opacity="0.9"/>
<circle cx="276.8" cy="113.8" r="3.8" fill="#b878c0" opacity="0.9"/>
<circle cx="279.9" cy="113.8" r="3.8" fill="#b878c0" opacity="0.9"/>
<circle cx="286.7" cy="113.7" r="3.8" fill="#b878c0" opacity="0.9"/>
<circle cx="293.8" cy="113.7" r="3.8" fill="#b878c0" opacity="0.9"/>
<circle cx="300.6" cy="113.7" r="3.8" fill="#b878c0" opacity="0.9"/>
<circle cx="307.6" cy="113.7" r="3.8" fill="#b878c0" opacity="0.9"/>
<circle cx="314.4" cy="113.7" r="3.8" fill="#b878c0" opacity="0.9"/>
<circle cx="321.5" cy="113.7" r="3.8" fill="#b878c0" opacity="0.9"/>
<circle cx="328.5" cy="113.7" r="3.8" fill="#b878c0" opacity="0.9"/>
<circle cx="335.5" cy="113.7" r="3.8" fill="#b878c0" opacity="0.9"/>
<circle cx="342.5" cy="113.7" r="3.8" fill="#b878c0" opacity="0.9"/>
<circle cx="349.7" cy="105.6" r="3.8" fill="#b878c0" opacity="0.9"/>
<circle cx="361.2" cy="75.6" r="3.8" fill="#b878c0" opacity="0.9"/>
<circle cx="375.3" cy="62.9" r="3.8" fill="#b878c0" opacity="0.9"/>
<circle cx="408.1" cy="50.0" r="3.8" fill="#b878c0" opacity="0.9"/>
<circle cx="62" cy="399.8" r="2.55" fill="#3c3cff" stroke="#000" stroke-width="0.8"/>
<circle cx="67.1" cy="385.9" r="2.55" fill="#00b400" stroke="#000" stroke-width="0.8"/>
<circle cx="69.7" cy="373.4" r="2.55" fill="#00b400" stroke="#000" stroke-width="0.8"/>
<circle cx="83.6" cy="361" r="2.55" fill="#00b400" stroke="#000" stroke-width="0.8"/>
<circle cx="87.9" cy="346.2" r="2.55" fill="#00b400" stroke="#000" stroke-width="0.8"/>
<circle cx="97.7" cy="333.8" r="2.55" fill="#00b400" stroke="#000" stroke-width="0.8"/>
<circle cx="104.6" cy="325.3" r="2.55" fill="#3c3cff" stroke="#000" stroke-width="0.8"/>
<circle cx="109.2" cy="309.6" r="2.55" fill="#00b400" stroke="#000" stroke-width="0.8"/>
<circle cx="118.5" cy="296" r="2.55" fill="#00b400" stroke="#000" stroke-width="0.8"/>
<circle cx="125.6" cy="279.9" r="2.55" fill="#00b400" stroke="#000" stroke-width="0.8"/>
<circle cx="132.7" cy="263.6" r="2.55" fill="#00b400" stroke="#000" stroke-width="0.8"/>
<circle cx="141.5" cy="248.6" r="2.55" fill="#00b400" stroke="#000" stroke-width="0.8"/>
<circle cx="148.5" cy="230.1" r="2.55" fill="#00b400" stroke="#000" stroke-width="0.8"/>
<circle cx="153.5" cy="214.8" r="2.55" fill="#00b400" stroke="#000" stroke-width="0.8"/>
<circle cx="155.6" cy="201.0" r="2.55" fill="#00b400" stroke="#000" stroke-width="0.8"/>
<circle cx="169.7" cy="189.2" r="2.55" fill="#00b400" stroke="#000" stroke-width="0.8"/>
<circle cx="171.9" cy="180.0" r="2.55" fill="#00b400" stroke="#000" stroke-width="0.8"/>
<circle cx="209.9" cy="180.3" r="2.55" fill="#3c3cff" stroke="#000" stroke-width="0.8"/>
<circle cx="211.6" cy="168.2" r="2.55" fill="#00b400" stroke="#000" stroke-width="0.8"/>
<circle cx="220.9" cy="168.0" r="2.55" fill="#3c3cff" stroke="#000" stroke-width="0.8"/>
<circle cx="223.9" cy="156.9" r="2.55" fill="#00b400" stroke="#000" stroke-width="0.8"/>
<circle cx="227.8" cy="141.8" r="2.55" fill="#00b400" stroke="#000" stroke-width="0.8"/>
<circle cx="239.8" cy="141.8" r="2.55" fill="#3c3cff" stroke="#000" stroke-width="0.8"/>
<circle cx="241.9" cy="131.8" r="2.55" fill="#00b400" stroke="#000" stroke-width="0.8"/>
<circle cx="253.6" cy="122.4" r="2.55" fill="#00b400" stroke="#000" stroke-width="0.8"/>
<circle cx="260.7" cy="117.5" r="2.55" fill="#ffa500" stroke="#000" stroke-width="0.8"/>
<circle cx="265.9" cy="117.5" r="2.55" fill="#3c3cff" stroke="#000" stroke-width="0.8"/>
<circle cx="272.6" cy="117.5" r="2.55" fill="#3c3cff" stroke="#000" stroke-width="0.8"/>
<circle cx="276.8" cy="113.8" r="2.55" fill="#ff0000" stroke="#000" stroke-width="0.8"/>
<circle cx="279.9" cy="113.8" r="2.55" fill="#3c3cff" stroke="#000" stroke-width="0.8"/>
<circle cx="286.7" cy="113.7" r="2.55" fill="#3c3cff" stroke="#000" stroke-width="0.8"/>
<circle cx="293.8" cy="113.7" r="2.55" fill="#3c3cff" stroke="#000" stroke-width="0.8"/>
<circle cx="300.6" cy="113.7" r="2.55" fill="#3c3cff" stroke="#000" stroke-width="0.8"/>
<circle cx="307.6" cy="113.7" r="2.55" fill="#3c3cff" stroke="#000" stroke-width="0.8"/>
<circle cx="314.4" cy="113.7" r="2.55" fill="#3c3cff" stroke="#000" stroke-width="0.8"/>
<circle cx="321.5" cy="113.7" r="2.55" fill="#3c3cff" stroke="#000" stroke-width="0.8"/>
<circle cx="328.5" cy="113.7" r="2.55" fill="#3c3cff" stroke="#000" stroke-width="0.8"/>
<circle cx="335.5" cy="113.7" r="2.55" fill="#3c3cff" stroke="#000" stroke-width="0.8"/>
<circle cx="342.5" cy="113.7" r="2.55" fill="#3c3cff" stroke="#000" stroke-width="0.8"/>
<circle cx="349.7" cy="105.6" r="2.55" fill="#00b400" stroke="#000" stroke-width="0.8"/>
<circle cx="361.2" cy="75.6" r="2.55" fill="#00b400" stroke="#000" stroke-width="0.8"/>
<circle cx="375.3" cy="62.9" r="2.55" fill="#00b400" stroke="#000" stroke-width="0.8"/>
<circle cx="408.1" cy="50.0" r="2.55" fill="#00b400" stroke="#000" stroke-width="0.8"/>
<g><ellipse cx="624.5" cy="107.6" rx="9" ry="16.6" fill="#ffb8b8"/><ellipse cx="619" cy="107.6" rx="8.6" ry="16.6" fill="#ff0000"/><ellipse cx="618.3" cy="107.4" rx="6.9" ry="13.3" fill="#ffffff"/><ellipse cx="617.9" cy="107.3" rx="5.2" ry="10" fill="#ff0000"/><ellipse cx="617.6" cy="107.2" rx="3.5" ry="6.7" fill="#ffffff"/><ellipse cx="617.3" cy="107.1" rx="1.9" ry="3.6" fill="#ff0000"/></g>
<line x1="600" y1="96.4" x2="633" y2="96.4" stroke="#ffff70" stroke-width="1.1"/>
<path d="M629.3,107.8 H657" stroke="#ff8000" stroke-width="2.6"/>
</svg></body></html>
